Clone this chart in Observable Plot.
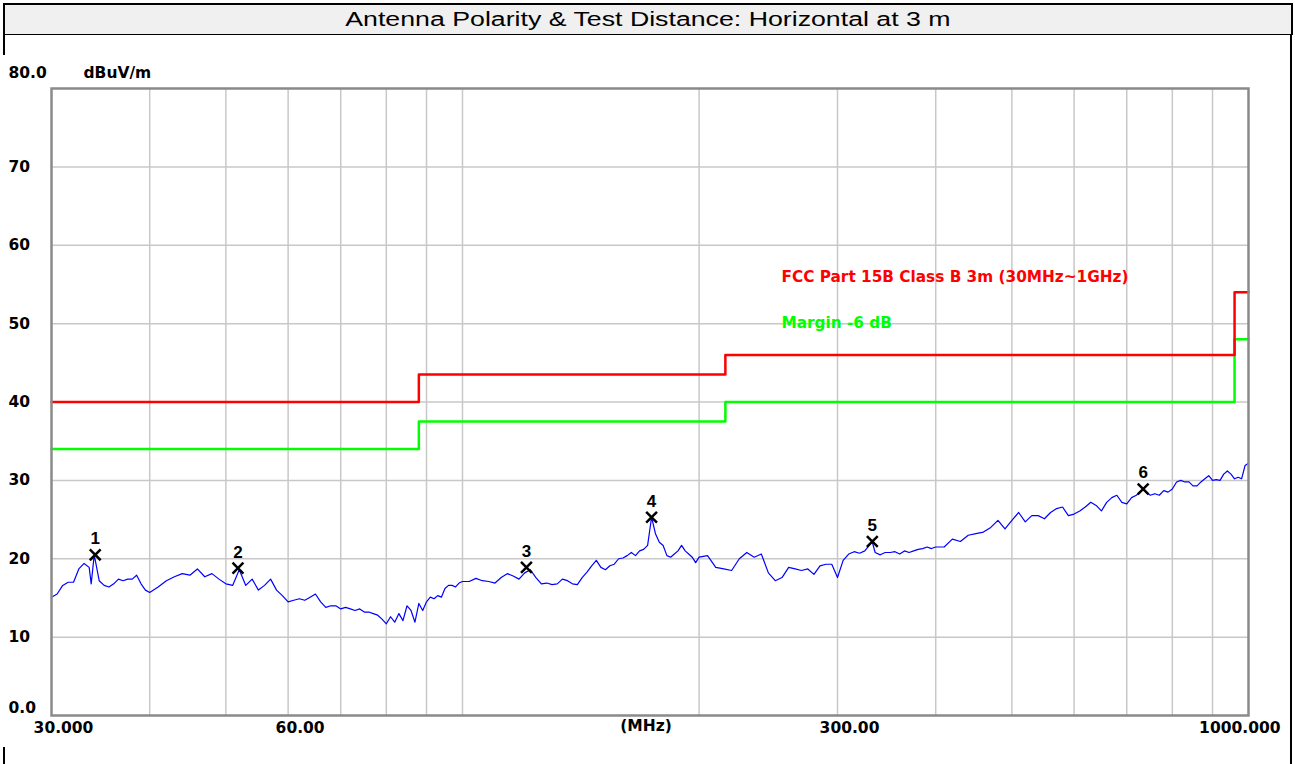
<!DOCTYPE html>
<html>
<head>
<meta charset="utf-8">
<script src="https://cdn.jsdelivr.net/npm/d3@7"></script>
<script src="https://cdn.jsdelivr.net/npm/@observablehq/plot@0.6"></script>
<style>
  html, body { margin: 0; padding: 0; background: #fff; }
  body { position: relative; width: 1295px; height: 764px; overflow: hidden; }
  #titlebar {
    position: absolute; left: 3px; top: 3px; width: 1290px; height: 33px;
    box-sizing: border-box; border: 2px solid #000; background: #f0f0f0;
    display: flex; align-items: center; justify-content: center;
  }
  #titlebar span {
    font-family: "Liberation Sans", Arial, sans-serif; font-size: 19.5px; color: #000;
    display: inline-block; transform: scaleX(1.37); white-space: nowrap;
  }
  #chart { position: absolute; left: 0; top: 35px; }
  .vline { position: absolute; background: #000; }
</style>
</head>
<body>
<div id="titlebar"><span id="title"></span></div>
<div id="chart"></div>
<div class="vline" style="left:3px; top:35px; width:2px; height:20px;"></div>
<div class="vline" style="left:3px; top:747px; width:2px; height:17px;"></div>
<div class="vline" style="left:1290px; top:35px; width:2px; height:729px;"></div>
<script>
const titleText = "Antenna Polarity & Test Distance: Horizontal at 3 m";
const unitY = "dBuV/m";
const unitX = "(MHz)";
const limitName = "FCC Part 15B Class B 3m (30MHz~1GHz)";
const marginName = "Margin -6 dB";

// axis ticks
const yTickValues = [10, 20, 30, 40, 50, 60, 70];
const yTickLabels = ["10", "20", "30", "40", "50", "60", "70"];
const yTopValue = 80, yTopLabel = "80.0";
const yBottomValue = 0, yBottomLabel = "0.0";
const xTickValues = [30, 60, 300];
const xTickLabels = ["30.000", "60.00", "300.00"];
const xEndValue = 1000, xEndLabel = "1000.000";
const gridX = [40, 50, 60, 70, 80, 90, 100, 200, 300, 400, 500, 600, 700, 800, 900];
const gridY = [10, 20, 30, 40, 50, 60, 70];

// limit lines (step after)
const limitFreq = [30, 88, 216, 960, 1000];
const limitLevel = [40, 43.5, 46, 54, 54];
const marginLevel = [34, 37.5, 40, 48, 48];

// measured trace
const traceFreq = [
  30, 30.5, 31, 31.5, 32, 32.5, 33, 33.5, 33.7, 34, 34.5, 35, 35.5, 36, 36.5, 37, 37.5, 38, 38.5, 39, 39.5,
  40, 41, 42, 43, 44, 45, 46, 47, 48, 49, 50, 51, 52, 53, 54, 55, 56, 57, 58, 59,
  60, 61, 62, 63, 64, 65, 66, 67, 68, 69, 70, 71, 72, 73, 74, 75, 76, 77, 78, 79,
  80, 81, 82, 83, 84, 85, 86, 87, 88, 89, 90, 91, 92, 93, 94, 95, 96, 97, 98, 99,
  100, 102, 104, 106, 108, 110, 112, 114, 116, 118, 120, 122, 124, 126, 128, 130, 132, 134, 136, 138,
  140, 142, 144, 146, 148, 150, 152, 154, 156, 158, 160, 162, 164, 166, 168, 170, 172, 174, 176, 178,
  180, 182, 184, 186, 188, 190, 192, 194, 196, 198,
  200, 205, 210, 215, 220, 225, 230, 235, 240, 245, 250, 255, 260, 265, 270, 275, 280, 285, 290, 295,
  300, 305, 310, 315, 320, 325, 332, 335, 340, 345, 350, 355, 360, 365, 370, 375, 380, 385, 390, 395,
  400, 410, 420, 430, 440, 450, 460, 470, 480, 490, 500, 510, 520, 530, 540, 550, 560, 570, 580, 590,
  600, 610, 620, 630, 640, 650, 660, 670, 680, 690, 700, 710, 720, 735, 740, 750, 760, 770, 780, 790,
  800, 810, 820, 830, 840, 850, 860, 870, 880, 890, 900, 910, 920, 930, 940, 950, 960, 970, 980, 990, 1000
];
const traceLevel = [
  15.1, 15.5, 16.6, 17.0, 17.0, 18.7, 19.4, 18.9, 16.8, 20.5, 17.2, 16.6, 16.4, 16.8, 17.4, 17.2, 17.4, 17.4, 17.9, 16.8, 16.0,
  15.7, 16.4, 17.2, 17.7, 18.1, 17.9, 18.7, 17.7, 18.1, 17.4, 16.8, 16.6, 18.6, 16.6, 17.4, 16.0, 16.6, 17.4, 16.0, 15.3,
  14.5, 14.7, 14.9, 14.7, 15.1, 15.5, 14.5, 13.8, 14.0, 14.0, 13.6, 13.8, 13.6, 13.4, 13.6, 13.2, 13.2, 13.0, 12.8, 12.3,
  11.7, 12.6, 11.9, 13.0, 12.1, 14.0, 13.4, 11.9, 14.3, 13.4, 14.5, 15.1, 14.9, 15.3, 15.1, 16.2, 16.6, 16.6, 16.4, 16.9,
  17.1, 17.1, 17.5, 17.2, 17.1, 16.9, 17.6, 18.1, 17.8, 17.4, 18.2, 18.6, 17.6, 16.8, 16.9, 16.7, 16.8, 17.4, 17.2, 16.8,
  16.7, 17.6, 18.3, 19.1, 19.8, 18.9, 18.6, 19.1, 19.3, 20.0, 20.1, 20.4, 20.8, 20.4, 21.0, 21.2, 21.7, 25.3, 23.2, 22.1,
  21.7, 20.4, 20.2, 20.6, 21.0, 21.7, 21.0, 20.6, 20.2, 19.5,
  20.2, 20.4, 18.9, 18.7, 18.5, 20.0, 20.8, 20.2, 20.6, 18.2, 17.2, 17.6, 18.9, 18.7, 18.5, 18.7, 18.0, 19.1, 19.3, 19.3,
  17.6, 19.8, 20.6, 20.9, 20.7, 21.0, 22.2, 20.8, 20.5, 20.8, 20.8, 20.9, 20.6, 21.0, 20.8, 21.0, 21.2, 21.3, 21.5, 21.3,
  21.5, 21.5, 22.5, 22.2, 23.0, 23.2, 23.4, 24.0, 24.9, 23.8, 24.9, 25.9, 24.7, 25.5, 25.5, 25.1, 25.9, 26.4, 26.6, 25.5,
  25.7, 26.1, 26.6, 27.2, 26.8, 26.1, 27.2, 27.8, 28.1, 27.2, 27.0, 27.8, 28.1, 28.9, 28.5, 28.1, 28.3, 28.1, 28.7, 28.5,
  28.9, 29.8, 30.0, 29.8, 29.8, 29.3, 29.3, 29.8, 30.2, 30.6, 30.0, 30.1, 30.0, 30.8, 31.2, 30.8, 30.2, 30.4, 30.2, 31.9, 32.2
];

// peak markers
const markerFreq = [34.1, 51.8, 120.6, 174.0, 332.2, 734.5];
const markerLevel = [20.5, 18.8, 18.9, 25.3, 22.2, 28.9];
const markerLabel = ["1", "2", "3", "4", "5", "6"];

document.getElementById("title").textContent = titleText;

const trace = traceFreq.map((f, i) => ({f, v: traceLevel[i]}));
const limit = limitFreq.map((f, i) => ({f, v: limitLevel[i]}));
const margin = limitFreq.map((f, i) => ({f, v: marginLevel[i]}));
const markers = markerFreq.map((f, i) => ({f, v: markerLevel[i], label: markerLabel[i]}));
const yTicks = yTickValues.map((v, i) => ({v, label: yTickLabels[i]}));
const xTicks = xTickValues.map((f, i) => ({f, label: xTickLabels[i]}));

const font = {fontFamily: "DejaVu Sans", fontWeight: "bold", fontSize: 15.5, fill: "#000", lineAnchor: "middle"};

const chart = Plot.plot({
  width: 1295,
  height: 729,
  marginTop: 53,
  marginBottom: 49,
  marginLeft: 51,
  marginRight: 47,
  x: {type: "log", domain: [30, 1000], axis: null},
  y: {domain: [0, 80], axis: null},
  style: {background: "#fff", overflow: "visible"},
  marks: [
    Plot.ruleX(gridX, {stroke: "#c8c8c8", strokeWidth: 1.5}),
    Plot.ruleY(gridY, {stroke: "#c8c8c8", strokeWidth: 1.5}),
    Plot.line(trace, {x: "f", y: "v", stroke: "#0000ff", strokeWidth: 1.2}),
    Plot.line(margin, {x: "f", y: "v", curve: "step-after", stroke: "#00ff00", strokeWidth: 2.5}),
    Plot.line(limit, {x: "f", y: "v", curve: "step-after", stroke: "#ff0000", strokeWidth: 2.5}),
    Plot.frame({stroke: "#8a8a8a", strokeWidth: 2.5}),
    Plot.dot(markers, {x: "f", y: "v", symbol: "times", r: 5, stroke: "#000", strokeWidth: 2.5}),
    Plot.text(markers, {x: "f", y: "v", text: "label", dy: -16, fontFamily: "Liberation Sans", fontWeight: "bold", fontSize: 17, fill: "#000"}),
    // y tick labels
    Plot.text(yTicks, {y: "v", text: "label", frameAnchor: "left", textAnchor: "start", dx: -43, ...font}),
    Plot.text([yTopLabel], {y: () => yTopValue, text: d => d, frameAnchor: "left", textAnchor: "start", dx: -43, dy: -15.5, ...font}),
    Plot.text([yBottomLabel], {y: () => yBottomValue, text: d => d, frameAnchor: "left", textAnchor: "start", dx: -43, dy: -7, ...font}),
    Plot.text([unitY], {frameAnchor: "top-left", textAnchor: "start", dx: 32, dy: -15.5, text: d => d, ...font}),
    // x tick labels
    Plot.text(xTicks, {x: "f", text: "label", frameAnchor: "bottom", dy: 13, dx: 12, ...font}),
    Plot.text([xEndLabel], {x: () => xEndValue, text: d => d, frameAnchor: "bottom", textAnchor: "end", dx: 32, dy: 13, ...font}),
    Plot.text([unitX], {frameAnchor: "bottom", dx: -4, dy: 11, text: d => d, ...font}),
    // legend labels
    Plot.text([limitName], {frameAnchor: "top-left", textAnchor: "start", dx: 730, dy: 189, text: d => d, ...font, fontSize: 15.3, fill: "#ff0000"}),
    Plot.text([marginName], {frameAnchor: "top-left", textAnchor: "start", dx: 730, dy: 235, text: d => d, ...font, fontSize: 15.3, fill: "#00ff00"})
  ]
});
document.getElementById("chart").appendChild(chart);
</script>
</body>
</html>
